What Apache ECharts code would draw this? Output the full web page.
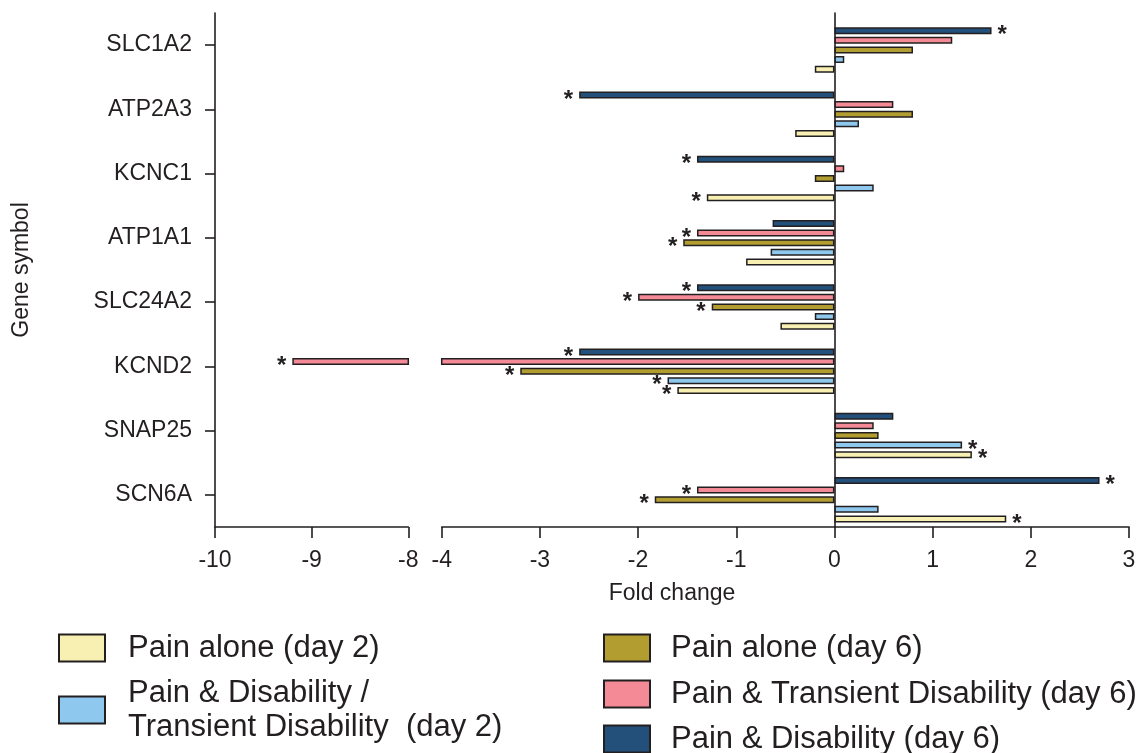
<!DOCTYPE html>
<html>
<head>
<meta charset="utf-8">
<script src="https://cdn.jsdelivr.net/npm/echarts@6/dist/echarts.min.js"></script>
<style>
html,body{margin:0;padding:0;background:#fff;}
#chart{width:1144px;height:753px;}
</style>
</head>
<body>
<div id="chart"></div>
<script>
// ---- data ----
const categories = ['SLC1A2', 'ATP2A3', 'KCNC1', 'ATP1A1', 'SLC24A2', 'KCND2', 'SNAP25', 'SCN6A'];

const painDay2    = [-0.2, -0.4, -1.3, -0.9, -0.55, -1.6, 1.4, 1.75];
const pdtdDay2    = [0.1, 0.25, 0.4, -0.65, -0.2, -1.7, 1.3, 0.45];
const painDay6    = [0.8, 0.8, -0.2, -1.54, -1.25, -3.2, 0.45, -1.83];
const ptdDay6     = [1.2, 0.6, 0.1, -1.4, -2.0, -9.2, 0.4, -1.4];
const pdDay6      = [1.6, -2.6, -1.4, -0.63, -1.4, -2.6, 0.6, 2.7];

// significance markers (1 = asterisk)
const painDay2Sig = [0, 0, 1, 0, 0, 1, 1, 1];
const pdtdDay2Sig = [0, 0, 0, 0, 0, 1, 1, 0];
const painDay6Sig = [0, 0, 0, 1, 1, 1, 0, 1];
const ptdDay6Sig  = [0, 0, 0, 1, 1, 1, 0, 1];
const pdDay6Sig   = [1, 1, 1, 0, 1, 1, 0, 1];

const leftTicks  = [-10, -9, -8];
const rightTicks = [-4, -3, -2, -1, 0, 1, 2, 3];

const seriesDefs = [
  { name: 'Pain & Disability (day 6)', values: pdDay6, sig: pdDay6Sig, color: '#22507B' },
  { name: 'Pain & Transient Disability (day 6)', values: ptdDay6, sig: ptdDay6Sig, color: '#F38A96' },
  { name: 'Pain alone (day 6)', values: painDay6, sig: painDay6Sig, color: '#B29E30' },
  { name: 'Pain & Disability / Transient Disability (day 2)', values: pdtdDay2, sig: pdtdDay2Sig, color: '#8FC8EE' },
  { name: 'Pain alone (day 2)', values: painDay2, sig: painDay2Sig, color: '#F8F0B3' }
];

const INK = '#231F20';
const FONT = '"Liberation Sans", Arial, Helvetica, sans-serif';
const leftMin = leftTicks[0], leftMax = leftTicks[leftTicks.length - 1];
const rightMin = rightTicks[0], rightMax = rightTicks[rightTicks.length - 1];

const chart = echarts.init(document.getElementById('chart'), null, { renderer: 'canvas' });

const BAR_W = 7;
const BAR_GAP = '38%';

function buildSeries(def, gridIdx) {
  // left grid only holds bars that reach below its max; right grid holds all bars (clipped)
  const inRange = gridIdx === 0 ? (v => v < leftMax) : (() => true);
  // asterisk belongs to the grid in which the bar ends
  const labelHere = gridIdx === 0 ? (v => v < leftMax) : (v => v >= rightMin);
  const data = def.values.map((v, i) => {
    if (!inRange(v)) return { value: null };
    const item = { value: v };
    if (def.sig[i] && labelHere(v)) {
      item.label = { show: true, position: v < 0 ? 'left' : 'right' };
    }
    return item;
  });
  return {
    type: 'bar',
    name: def.name,
    xAxisIndex: gridIdx,
    yAxisIndex: gridIdx,
    barWidth: BAR_W,
    barGap: BAR_GAP,
    data: data,
    itemStyle: { color: def.color, borderColor: INK, borderWidth: 1.5 },
    label: {
      show: false,
      formatter: '*',
      fontFamily: FONT,
      fontSize: 24,
      fontWeight: 'bold',
      color: INK,
      distance: 6,
      offset: [0, 5]
    },
    emphasis: { disabled: true },
    silent: true,
    animation: false
  };
}

function spacer(gridIdx) {
  return {
    type: 'bar', name: '', xAxisIndex: gridIdx, yAxisIndex: gridIdx,
    barWidth: BAR_W, barGap: BAR_GAP,
    data: categories.map(() => null), silent: true, animation: false
  };
}

const series = [];
[0, 1].forEach(g => {
  series.push(spacer(g));
  seriesDefs.forEach(d => series.push(buildSeries(d, g)));
});

const axisLineStyle = { color: INK, width: 1.6 };
const tickLabel = { fontFamily: FONT, fontSize: 23, color: INK };

function legendFor(name, left, top, textPad, formatter) {
  return {
    data: [name],
    left: left, top: top, orient: 'vertical', padding: 0,
    icon: 'rect', itemWidth: 46, itemHeight: 27,
    selectedMode: false,
    formatter: formatter || '{name}',
    textStyle: { fontFamily: FONT, fontSize: 31, color: INK, padding: [0, 0, 0, textPad], lineHeight: 34 }
  };
}

const option = {
  backgroundColor: '#fff',
  animation: false,
  grid: [
    { left: 215, width: 193.3, top: 13, height: 514, containLabel: false },
    { left: 441.7, width: 687.3, top: 13, height: 514, containLabel: false }
  ],
  xAxis: [
    {
      type: 'value', gridIndex: 0, min: leftMin, max: leftMax, interval: 1,
      splitLine: { show: false },
      axisLine: { show: true, lineStyle: axisLineStyle },
      axisTick: { show: true, length: 11, lineStyle: axisLineStyle },
      axisLabel: Object.assign({ margin: 22 }, tickLabel)
    },
    {
      type: 'value', gridIndex: 1, min: rightMin, max: rightMax, interval: 1,
      splitLine: { show: false },
      axisLine: { show: true, onZero: false, lineStyle: axisLineStyle },
      axisTick: { show: true, length: 11, lineStyle: axisLineStyle },
      axisLabel: Object.assign({ margin: 22 }, tickLabel)
    }
  ],
  yAxis: [
    {
      type: 'category', gridIndex: 0, data: categories, inverse: true,
      name: 'Gene symbol', nameLocation: 'middle', nameGap: 182,
      nameTextStyle: { fontFamily: FONT, fontSize: 23, color: INK },
      axisLine: { show: true, onZero: false, lineStyle: axisLineStyle },
      axisTick: { show: true, alignWithLabel: true, length: 10, lineStyle: axisLineStyle },
      axisLabel: Object.assign({ margin: 23 }, tickLabel),
      splitLine: { show: false }
    },
    {
      type: 'category', gridIndex: 1, data: categories, inverse: true,
      axisLine: { show: true, onZero: true, lineStyle: axisLineStyle },
      axisTick: { show: false },
      axisLabel: { show: false },
      splitLine: { show: false }
    }
  ],
  legend: [
    legendFor('Pain alone (day 2)', 58, 631, 18),
    legendFor('Pain & Disability / Transient Disability (day 2)', 58, 676, 18,
      () => 'Pain & Disability /\nTransient Disability  (day 2)'),
    legendFor('Pain alone (day 6)', 603, 631, 16),
    legendFor('Pain & Transient Disability (day 6)', 603, 677, 16),
    legendFor('Pain & Disability (day 6)', 603, 722, 16)
  ],
  graphic: [
    {
      type: 'text', x: 672, y: 594,
      style: { text: 'Fold change', fontFamily: FONT, fontSize: 23, fill: INK, align: 'center', verticalAlign: 'middle' }
    }
  ],
  series: series
};

chart.setOption(option);
</script>
</body>
</html>
